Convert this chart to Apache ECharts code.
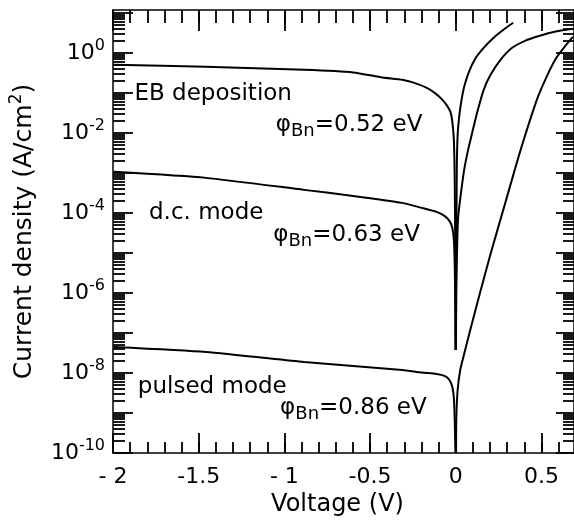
<!DOCTYPE html>
<html>
<head>
<meta charset="utf-8">
<script src="https://cdn.jsdelivr.net/npm/echarts@6/dist/echarts.min.js"></script>
<style>
  html, body { margin: 0; padding: 0; background: #fff; }
  #chart { width: 574px; height: 522px; }
</style>
</head>
<body>
<div id="chart"></div>
<script>
// J-V curves, y values are log10(J in A/cm2), x is voltage (V)
// each curve split in a reverse branch (up to the dip) and a forward branch
var ebReverse = [
  [-1.996, -0.3], [-1.458, -0.35], [-0.885, -0.425], [-0.599, -0.49], [-0.427, -0.6175],
  [-0.312, -0.675], [-0.226, -0.775], [-0.169, -0.875], [-0.123, -1.0], [-0.083, -1.15],
  [-0.054, -1.3], [-0.031, -1.475], [-0.02, -1.725], [-0.011, -2.175], [-0.006, -3.175],
  [-0.003, -4.925], [-0.001, -7.425]
];
var ebForward = [
  [0.001, -7.425], [0.003, -4.925], [0.006, -2.925], [0.011, -2.05], [0.02, -1.6],
  [0.031, -1.25], [0.049, -0.85], [0.077, -0.475], [0.117, -0.125], [0.163, 0.125],
  [0.221, 0.375], [0.278, 0.575], [0.335, 0.75]
];
var dcReverse = [
  [-1.996, -2.975], [-1.458, -3.125], [-0.885, -3.425], [-0.599, -3.575], [-0.312, -3.75],
  [-0.198, -3.875], [-0.112, -3.975], [-0.066, -4.075], [-0.037, -4.2], [-0.02, -4.375],
  [-0.011, -4.675], [-0.006, -5.3], [-0.003, -6.175], [-0.001, -7.425]
];
var dcForward = [
  [0.001, -7.425], [0.003, -5.925], [0.009, -4.675], [0.014, -4.1], [0.029, -3.55],
  [0.049, -2.925], [0.072, -2.425], [0.1, -1.925], [0.129, -1.425], [0.163, -0.925],
  [0.203, -0.55], [0.261, -0.175], [0.329, 0.125], [0.404, 0.3], [0.49, 0.425],
  [0.576, 0.525], [0.684, 0.6]
];
var pulsedReverse = [
  [-1.996, -7.35], [-1.458, -7.475], [-0.885, -7.725], [-0.599, -7.825], [-0.312, -7.925],
  [-0.198, -7.99], [-0.112, -8.025], [-0.066, -8.075], [-0.037, -8.175], [-0.02, -8.35],
  [-0.011, -8.625], [-0.006, -9.175], [-0.002, -10.0]
];
var pulsedForward = [
  [0.002, -10.0], [0.003, -9.175], [0.011, -8.425], [0.026, -7.925], [0.043, -7.625],
  [0.089, -6.85], [0.146, -5.925], [0.203, -5.025], [0.289, -3.75], [0.375, -2.475],
  [0.473, -1.175], [0.53, -0.6], [0.587, -0.125], [0.644, 0.2], [0.684, 0.4]
];

// annotations: [x, y, text]
var notes = [
  [-1.875, -1.025, 'EB deposition'],
  [-1.05, -1.8, '\u03c6{sub|Bn}=0.52 eV'],
  [-1.79, -4.0, 'd.c. mode'],
  [-1.065, -4.55, '\u03c6{sub|Bn}=0.63 eV'],
  [-1.855, -8.35, 'pulsed mode'],
  [-1.025, -8.875, '\u03c6{sub|Bn}=0.86 eV']
];

var xMajor = [-2, -1.5, -1, -0.5, 0, 0.5];
var xLabels = ['- 2', '-1.5', '- 1', '-0.5', '0', '0.5'];
var xMinorStep = 0.1;
var yDecades = [-10, -9, -8, -7, -6, -5, -4, -3, -2, -1, 0, 1];
var yLabelDecades = [-10, -8, -6, -4, -2, 0];
var minorMult = [2, 3, 4, 5, 6, 7, 8, 9];

var xMin = -2, xMax = 0.69, yMin = -10, yMax = 1.07;

var xMinor = [];
for (var i = 0; xMin + i * xMinorStep <= xMax + 1e-9; i++) {
  xMinor.push(Math.round((xMin + i * xMinorStep) * 10) / 10);
}
var yMinor = [];
yDecades.forEach(function (d) {
  minorMult.forEach(function (m) {
    var v = d + Math.log10(m);
    if (v > yMin && v < yMax) yMinor.push(v);
  });
});

var font = 'DejaVu Sans';
var black = '#000';

function axisBase(pos, ticks, len, main, min, max) {
  return {
    type: 'value', position: pos, min: min, max: max,
    axisLine: { show: main, onZero: false, lineStyle: { color: black, width: 1.5 } },
    axisTick: { show: true, inside: true, length: len, customValues: ticks,
      lineStyle: { color: black, width: 1.8 } },
    axisLabel: { show: false },
    splitLine: { show: false }
  };
}

var xAxes = [
  axisBase('bottom', xMajor, 20, true, xMin, xMax),
  axisBase('bottom', xMinor, 11, false, xMin, xMax),
  axisBase('top', xMajor, 21, true, xMin, xMax),
  axisBase('top', xMinor, 13, false, xMin, xMax)
];
xAxes[0].axisLabel = {
  show: true, customValues: xMajor, margin: 13,
  fontFamily: font, fontSize: 22, color: black,
  formatter: function (v) {
    var k = xMajor.findIndex(function (m) { return Math.abs(m - v) < 1e-6; });
    return k >= 0 ? xLabels[k] : '';
  }
};
xAxes[0].name = 'Voltage (V)';
xAxes[0].nameLocation = 'middle';
xAxes[0].nameGap = 39;
xAxes[0].nameTextStyle = { fontFamily: font, fontSize: 24, color: black, padding: [0, 12, 0, 0] };

var yAxes = [
  axisBase('left', yDecades, 20, true, yMin, yMax),
  axisBase('left', yMinor, 12, false, yMin, yMax),
  axisBase('right', yDecades, 18, true, yMin, yMax),
  axisBase('right', yMinor, 11, false, yMin, yMax)
];
yAxes[0].axisLabel = {
  show: true, customValues: yLabelDecades, margin: 8,
  fontFamily: font, fontSize: 22, color: black, lineHeight: 30,
  formatter: function (v) { return '10{sup|' + Math.round(v) + '}'; },
  rich: { sup: { fontFamily: font, fontSize: 16, color: black, lineHeight: 17, verticalAlign: 'top' } }
};
yAxes[0].name = 'Current density (A/cm{sup|2})';
yAxes[0].nameLocation = 'middle';
yAxes[0].nameGap = 72;
yAxes[0].nameTextStyle = {
  fontFamily: font, fontSize: 25, color: black, lineHeight: 32,
  rich: { sup: { fontFamily: font, fontSize: 17, color: black, lineHeight: 18, verticalAlign: 'top' } }
};

function curve(data) {
  return {
    type: 'line', data: data, showSymbol: false, symbol: 'none',
    smooth: 0.2,
    lineStyle: { color: black, width: 2 }, silent: true, z: 3
  };
}

var chart = echarts.init(document.getElementById('chart'), null, { renderer: 'canvas' });
chart.setOption({
  animation: false,
  backgroundColor: '#fff',
  grid: { left: 105, right: 0, top: 10, bottom: 69, containLabel: false },
  xAxis: xAxes,
  yAxis: yAxes,
  series: [
    curve(ebReverse), curve(ebForward),
    curve(dcReverse), curve(dcForward),
    curve(pulsedReverse), curve(pulsedForward),
    {
      type: 'scatter', symbolSize: 0, silent: true,
      itemStyle: { opacity: 1, color: 'transparent' },
      data: notes.map(function (n) { return [n[0], n[1], n[2]]; }),
      label: {
        show: true, position: 'right', distance: 0, opacity: 1,
        fontFamily: font, fontSize: 23, color: black, lineHeight: 30,
        textBorderWidth: 0,
        formatter: function (p) { return p.data[2]; },
        rich: { sub: { fontFamily: font, fontSize: 18, color: black, lineHeight: 18, verticalAlign: 'bottom' } }
      }
    }
  ]
});
</script>
</body>
</html>
